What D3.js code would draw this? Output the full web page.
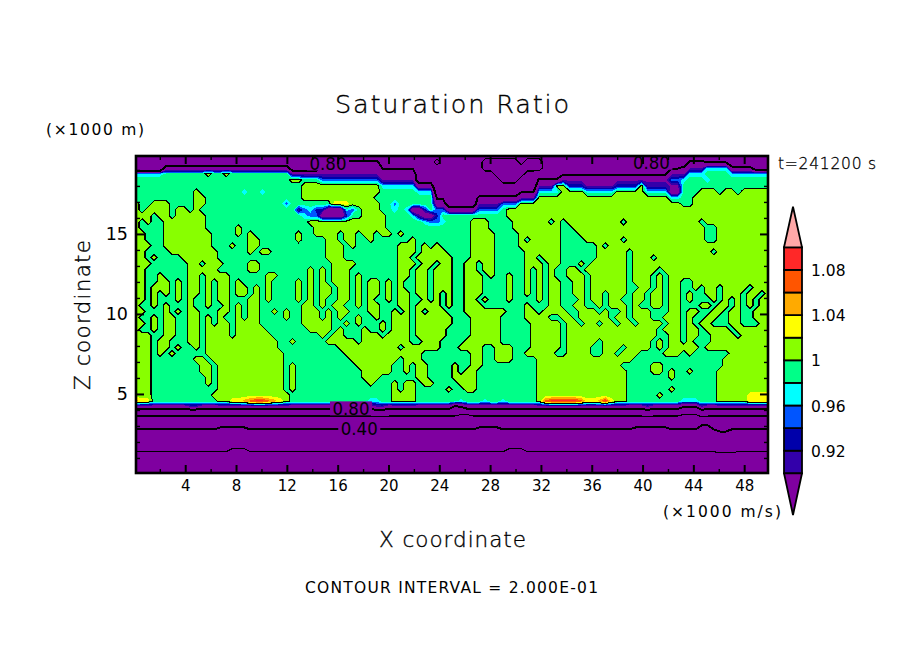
<!DOCTYPE html>
<html><head><meta charset="utf-8">
<script src="https://cdn.jsdelivr.net/npm/d3@7"></script>
<style>html,body{margin:0;padding:0;background:#fff}svg{display:block}</style>
</head><body><svg id="c" width="904" height="654"></svg>
<script>
// ---- values ----
const titleText = "Saturation Ratio";
const xTicksMajor = [4,8,12,16,20,24,28,32,36,40,44,48];
const xTicksMinor = [2,6,10,14,18,22,26,30,34,38,42,46];
const zTicksMajor = [5,10,15];
const zTicksMinor = [1,2,3,4,6,7,8,9,11,12,13,14,16,17,18,19];
const fillLevels = [0.90,0.92,0.94,0.96,0.98,1.00,1.02,1.04,1.06,1.08,1.10];
const fillColors = ["#3300aa","#0000aa","#0055ff","#00ffff","#00ff88","#88ff00","#ffff00","#ffaa00","#ff5500","#ff2828","#ffa8a8"];
const belowColor = "#7f00a0";
const lineLevelsThin = [0.2,0.6,1.0];
const lineLevelsThick = [0.4,0.8];
const barLabels = [0.92,0.96,1,1.04,1.08];
// cell codes: saturation ratio at one grid node
const codeValues = {A:.02,B:.055,C:.09,D:.125,E:.16,F:.195,G:.23,H:.265,I:.30,J:.335,K:.37,L:.405,M:.44,N:.475,O:.51,P:.545,Q:.58,R:.615,S:.65,T:.685,U:.72,V:.755,W:.79,X:.825,Y:.86,Z:.895,
  i:.91,b:.93,l:.95,c:.97,".":.99,"+":1.01,y:1.03,o:1.05,d:1.07,r:1.09};
// 54 rows (top to bottom), 106 columns (left to right)
const fieldRows = [
"TTTTTTTTTT TTTTTTTTTT TTTTTTTTTT TTTTTTTTTT TTTTTTTTTT TTTTTTTTTT TTTTTTTTTT TTTTTTTTTT TTTTTTTTTT TTTTTUUUUT TTTTTT",
"TTTTTTTTTT TTTTTTTTTT TTTTTTTTTT TXXXXXXXXX XUUUUUUTTT OTTTTTTTOO OOOOTOOOTT TTTTTTTTTT TTTTTTTTTT TTXXXWWWWU UUUTTT",
"SSSSSYYYYY YYYYYYYYYY YYYYYYUUUU UZZZZZZZZZ ZWWWWWWTTT TTTTTTTTOO OOOOOOOOTT TTTTTTTTTT TTTTTTTTTW WXZZZccccX XXXUUU",
"ccccc..... ..+..+.... ......ZZZZ ZZZZZZZZZZ ZZZZZZZTTT TTTTTTTTTT OOOOOTTUUU UWWWWWWWWW WWWWWWWWWZ ZZccc....c cccccc",
".......... .......... ......++.. .lllllllll lZZZZZZUUU TTTTTTTTTT TOOOTTTXXX XZZZZZZZZZ ZZZZZZZZZl lc...c.... ......",
".......... .......... ........++ ++++++++++ +ccccccYYY TTTTTTTTTT TTTTUUUZZZ ++bbbZZZZZ bbbb+iiiiZ Z......... ......",
".......... +.......c. .c......++ ++++++++++ +......ccc UUTTTTTUUU UUUUWWWccc c++++ccccc +++++ccccY Y...+++.++ .+++++",
".......... ++........ ........++ ++++++++++ .......... WWUUUUUXXX XXXXZZZ+++ ++++++++++ +++++++++c c..+++++++ ++++++",
"+..+++.... ++........ .....l.... ...yyy++++ +..l...... YYUUUUUZZZ Zlll++++++ ++++++++++ ++++++++++ +..+++++++ ++++++",
"+.++++.++. +......... .......ilc bbYYYcl.++ +..c.cYYb. llYYYYYlll l.++++++++ ++++++++++ ++++++++++ ++++++++++ ++++++",
"+++.++.+++ ++........ ........cl lYYYYb..++ ++....ciYY b......... ..++++++++ ++++++++++ ++++++++++ ++++++++++ ++++++",
"+.+..+++++ ++........ .........+ ++++++++++ ++......cl lc....+++. ...++++++. +.++++++++ +.++++++++ ++++.+++++ ++++++",
"+....+++++ ++.....+.. .......... ++++++++++ ++........ ......+++. ...+++++++ +..+++++++ ++++++++++ +++++..+++ ++++++",
"++...+++++ +++....+.+ .......+.. ++++.++.++ .++.+..... ......++++ ....++++++ +...++++++ ++++++++++ +++++..+++ ++++++",
"++...+++++ +++......+ +......+.. ..++.++..+ ......+... ......++++ ....+.++++ +....+++++ +.++++++++ +++++..+++ ++++++",
"+++..+++++ +++...+..+ +......... ..+++.+... ....+++.+. +.....++++ ....++++++ +......+.+ ++++++++++ ++++++++++ ++++++",
"++....++++ ++++.....+ .++....... ..+++..... ....+++.++ ++....++++ .....+++++ +......+++ ++.+++++++ ++++++.+++ ++++++",
"++.+....++ ++++...... .......... ..+++..... ....++.+++ +++...++++ .....++.++ +......+++ ++.+++.+++ ++++++++++ ++++++",
"+++......+ +.+++....+ +......... ...++++... ....+++.++ .++..++.++ .....+++.+ +...+.++++ ++.+++++++ ++++++++++ ++++++",
"++.......+ ++++.....+ +........+ .+.+++.... ....++.++. +++..++.++ .....+.+.+ ..++.+++++ ++.++++.++ ++++++++++ ++++++",
"++..+....+ +.++++.... ..++.....+ .+.+++.+.. ....++.++. +++..+++.+ ..+..+.+.+ ..+++.++++ ++.+++.+.+ ++++++++++ ++++++",
"++..++.+.+ +.+.++.+.. ..+....+.+ .+.+++.+.+ +.+.+..++. +++..+++.. ..+..+.+.+ +..++.++++ ++.+++.+.+ +..+++++++ ++++++",
"++.+++.+.+ +.+.++.++. +.+....+.+ .++.++.+.+ +.+.+..++. +++..+++.. ..+..+.+.+ +..++.++++ ++..++.+.+ +..+.++.++ ++.+++",
"++.+.+.+.+ +.+.++.++. +.+....+.+ .++.++.+.+ +.+.++.++. +.+..+++.. ..+..+.+.+ +..++.++.+ ++.++.++.+ +.+..++.++ +.++.+",
"++.+...+.+ ..+.++...+ +.+....+.+ .+..++.+.+ ..+.++..+. +.+..++.+. ..+....+.+ +...+.++.+ +..++.++.+ +.+...+.+. +.+.++",
"+..+.+...+ ..+..+.+.+ +.......++ .+.++..+.+ +...++.+++ +.+..+++.. .....+...+ +..++..+.+ ++.+..++.+ +...++.++. +.+.++",
"++...+.+.+ +...++.+.+ +..+.+..++ +.+.++...+ +..+.+.+.+ ++...+++++ ++...++.++ ++..+++.+. .+.+++...+ +.++..++.+ +..+++",
"+..+.++..+ +.+.+..+.+ +....+..++ +.+.+..+.. +..+++.+++ +++...++++ +....++++. .++.+++++. ++.+++..++ +.+..++..+ +..+++",
"++.+.++..+ +.+.++.+++ +.......++ +++..+.+.. .+.+++.+++ +++...++++ +.....++++ +.++.++.++ .++.++++.+ +.+.++...+ +...++",
"+..+.++..+ +.++++.+++ ++.......+ +++.+...+. .+.+++.+++ ++....++++ +.....++++ +.++++++++ +++++++.++ +.++.++++. ++++++",
"+++..++..+ +.++++.+++ +++....... .+.++...++ +.++++.+++ ++....++++ +.....++++ +.++++++++ +++++++..+ +.++..++++ .+++++",
"+++.++...+ +.++++++++ ++++..+... ..+++++.++ ++++++..++ +....+++++ +.....++++ +.+++++.++ ++++++.+.+ +.+...++++ ++++++",
"+++.++.+.. +.++++++++ ++++...... ....++++++ ++++.+++++ +...++++.. +++...++++ +.++++..++ +.++++.+.+ ++++.+++++ ++++++",
"+++.+.+... ..++++++++ +++++..... .....+++++ ++++++++.. ......++.. +++..+++++ ..++++..++ .+++....++ +.+......+ ++++++",
"+++....... ++.+++++++ +++++..... ......++++ ++++.+++.. ......++.. +++....+++ ++++++++++ +++....... ........++ ++++++",
"+++....... .++.++++++ +++++.+... .......+++ +++..+.++. ...+..++.. .......+++ ++++++++++ +.....++.. ........++ ++++++",
"+++....... .++.++++++ +++++.+... ........++ +++..+.++. ...+.++... .......+++ ++++++++++ ++....++.+ ..+....+++ ++++++",
"+++....... ..+.++++++ +++++.+... ........++ +......++. ...++++... .......+++ ++++++++++ ++.......+ .......+++ ++++++",
"+++....... ..+.++++++ +++++.+... .........+ ...+.++.++ ....+++... .......+++ ++++++++++ ++........ .......+++ ++++++",
"+++....... ....++++++ +++++.+... .......... ...+.++... ..+..++... .......+++ ++++++++++ ++.......+ .......+++ ++++++",
"+++....... ...+++++++ ++++++.... .......... ...++++... .......... .......+++ ++++++++++ ++.....+.. .......+++ ++yyyy",
"oyy....... ....++yyod rrdoy+.... .........c c..++++... ....c...c. .c.....+dr rrrrdyyory ++........ .ccc...+++ ++yyyy",
"YYYYYYYYYZ ZYYYYYYYYY YYYYYYYYYY YYYYYYYYYY ZZYYYYYYYY YYYVWYYYYY YYYYYYYYYY YYYYYYYYYY YYYYYZYYYY YWWWZYYYYY YYYYYY",
"SSSSSSSSSS SSSSSSSSSS SSSSSSSSSS SSSSSSSSSS TTSSSSSSSS SSSSRRSSSS SSSSSSSSSS SSSSSSSSSS SSSSSTSSSS SRRRTSSSSS SSSSSS",
"PPPPPPPPPP PPPPPPPPPP PPPPPPPPPP PPPPPPPPPP PPPPPPPPPP PPPPPPPPPP PPPPPPPPPP PPPPPPPPPP PPPPPPPPPP PPPPPPPPPP PPPPPP",
"NNNNNNNNNN NNNNMMMMMN NNNNNNNNNN NNNNNNNNNN NNNNNNNNNN NNNNNNNMMM MNNNNNNNNN NNNNNNNNNN NNNMMMMMMN NNNNLLNNNN NNNNNN",
"KKKKKKKKKK KKKKJJJJJK KKKKKKKKKK KKKKKKKKKK KKKKKKKKKK KKKKKKKJJJ JKKKKKKKKK KKKKKKKKKK KKKJJJJJJK KKKKIIKLLK KKKKKK",
"JJJJJJJJJJ JJJJJJJJJJ JJJJJJJJJJ JJJJJJJJJJ JJJJJJJJJJ JJJJJJJJJJ JJJJJJJJJJ JJJJJJJJJJ JJJJJJJJJJ JJJJJJJJJJ JJJJJJ",
"HHHHHHHHHH HHHHHHHHHH HHHHHHHHHH HHHHHHHHHH HHHHHHHHHH HHHHHHHHHH HHHHHHHHHH HHHHHHHHHH HHHHHHHHHH HHHHHHHHHH HHHHHH",
"GGGGGGGGGG GGGGGGFFFG GGGGGGGGGG GGGGGGGGGG GGGGGGGGGG GGGGGGGGGG GGFFFGGGGG GGGGGGGGGG GGGGGGGGGG GGGGGGGHHH GGGGGG",
"EEEEEEEEEE EEEEEEEEEE EEEEEEEEEE EEEEEEEEEE EEEEEEEEEE EEEEEEEEEE EEEEEEEEEE EEEEEEEEEE EEEEEEEEEE EEEEEEEEEE EEEEEE",
"DDDDDDDDDD DDDDDDDDDD DDDDDDDDDD DDDDDDDDDD DDDDDDDDDD DDDDDDDDDD DDDDDDDDDD DDDDDDDDDD DDDDDDDDDD DDDDDDDDDD DDDDDD",
"CCCCCCCCCC CCCCCCCCCC CCCCCCCCCC CCCCCCCCCC CCCCCCCCCC CCCCCCCCCC CCCCCCCCCC CCCCCCCCCC CCCCCCCCCC CCCCCCCCCC CCCCCC",
"BBBBBBBBBB BBBBBBBBBB BBBBBBBBBB BBBBBBBBBB BBBBBBBBBB BBBBBBBBBB BBBBBBBBBB BBBBBBBBBB BBBBBBBBBB BBBBBBBBBB BBBBBB"
];
// ---- chart ----
const cells = fieldRows.map(r => r.replace(/ /g,""));
const bad = cells.map((r,i)=>r.length!==106?i+":"+r.length:null).filter(Boolean);
if (bad.length || cells.length!==54) throw new Error("bad rows "+cells.length+" "+bad.join(","));
const nx = 106, ny = cells.length;
const values = cells.flatMap(r => Array.from(r, ch => codeValues[ch]));

const L=136,R=768,T=156,B=473;
const x = d3.scaleLinear().domain([0.125,49.875]).range([L,R]);
const z = d3.scaleLinear().domain([0.06,19.87]).range([B,T]);
const colX = d3.scaleLinear().domain([0.5,nx-0.5]).range([L,R]);
const rowY = d3.scaleLinear().domain([0.5,ny-0.5]).range([T,B]);
const svg = d3.select("#c");
const font = "'DejaVu Sans',sans-serif";

svg.append("defs").append("clipPath").attr("id","plot").append("rect")
  .attr("x",L).attr("y",T).attr("width",R-L).attr("height",B-T);
const path = d3.geoPath(d3.geoTransform({point(px,py){this.stream.point(colX(px),rowY(py));}}));
const contours = d3.contours().size([nx,ny]).smooth(true);

const plot = svg.append("g").attr("clip-path","url(#plot)");
plot.append("rect").attr("x",L).attr("y",T).attr("width",R-L).attr("height",B-T).attr("fill",belowColor);
plot.selectAll("path.band").data(contours.thresholds(fillLevels)(values)).join("path")
  .attr("class","band").attr("d",path).attr("fill",(d,i)=>fillColors[i]).attr("shape-rendering","crispEdges");
const lines = (levels,w) => plot.append("g").selectAll("path").data(contours.thresholds(levels)(values)).join("path")
  .attr("d",path).attr("fill","none").attr("stroke","#000").attr("stroke-width",w).attr("shape-rendering","crispEdges");
lines(lineLevelsThin,1.1);
lines(lineLevelsThick,2);

// contour labels, each on a small gap in its line
const contourLabels = [
  {t:"0.80",x:15.24,z:19.4},{t:"0.80",x:40.7,z:19.45},
  {t:"0.80",x:17.05,z:4.1},{t:"0.40",x:17.7,z:2.85}];
const lab = plot.append("g");
contourLabels.forEach(d=>{
  lab.append("rect").attr("x",x(d.x)-21).attr("y",z(d.z)-7).attr("width",42).attr("height",14).attr("fill",belowColor);
  lab.append("text").attr("x",x(d.x)-18.5).attr("y",z(d.z)+6.5).attr("textLength",37).attr("lengthAdjust","spacingAndGlyphs")
    .attr("font-family",font).attr("font-size",18).attr("fill","#000").text(d.t);
});

// axes: dir is the signed tick direction that points into the plot
function ax(gen,tx,ty,dir,major,minor,labels){
  const g1 = svg.append("g").attr("transform",`translate(${tx},${ty})`)
    .call(gen.tickValues(major).tickSizeInner(8*dir).tickSizeOuter(0).tickPadding(labels?13:0).tickFormat(labels?d3.format("d"):""));
  g1.selectAll(".tick line").attr("stroke-width",2);
  g1.select(".domain").remove();
  const g2 = svg.append("g").attr("transform",`translate(${tx},${ty})`)
    .call(gen.tickValues(minor).tickSizeInner(4*dir).tickSizeOuter(0).tickFormat(""));
  g2.select(".domain").remove();
  g2.selectAll(".tick line").attr("stroke-width",1.4);
  return g1;
}
const xa = ax(d3.axisBottom(x),0,B,-1,xTicksMajor,xTicksMinor,true);
xa.selectAll("text").attr("font-family",font).attr("font-size",15).attr("fill","#000").attr("y",7);
ax(d3.axisBottom(x),0,T,1,xTicksMajor,xTicksMinor,false);
const za = ax(d3.axisLeft(z),L,0,-1,zTicksMajor,zTicksMinor,true);
za.selectAll("text").attr("font-family",font).attr("font-size",17.5).attr("fill","#000").attr("x",-8);
ax(d3.axisLeft(z),R,0,1,zTicksMajor,zTicksMinor,false);
svg.append("rect").attr("x",L).attr("y",T).attr("width",R-L).attr("height",B-T)
  .attr("fill","none").attr("stroke","#000").attr("stroke-width",2.6);

// colour bar
const bar = d3.scaleLinear().domain([0.90,1.10]).range([473.3,247.3]);
const bx0=784,bx1=802,bxm=793;
const gb = svg.append("g");
gb.selectAll("rect").data(fillColors.slice(0,10)).join("rect")
  .attr("x",bx0).attr("width",bx1-bx0)
  .attr("y",(d,i)=>bar(fillLevels[i+1])).attr("height",(d,i)=>bar(fillLevels[i])-bar(fillLevels[i+1]))
  .attr("fill",d=>d).attr("stroke","#000").attr("stroke-width",1.8);
gb.append("path").attr("d",d3.line()([[bx0,bar(1.10)],[bxm,206.7],[bx1,bar(1.10)]])+"Z")
  .attr("fill",fillColors[10]).attr("stroke","#000").attr("stroke-width",1.8);
gb.append("path").attr("d",d3.line()([[bx0,bar(0.90)],[bxm,515],[bx1,bar(0.90)]])+"Z")
  .attr("fill",belowColor).attr("stroke","#000").attr("stroke-width",1.8);
gb.selectAll("text").data(barLabels).join("text")
  .attr("x",811).attr("y",d=>bar(d)+6).attr("font-family",font).attr("font-size",15.5).attr("fill","#000")
  .text(d=>d===1?"1":d3.format(".2f")(d));

// free text
const texts = [
  {t:titleText,x:335,y:113,s:25.5,w:234,wt:200,st:0.35},
  {t:"(×1000 m)",x:46,y:134.5,s:15.5,w:98,wt:400,st:0},
  {t:"t=241200 s",x:778,y:168.5,s:15.5,w:98,wt:200,st:0.3},
  {t:"(×1000 m/s)",x:663,y:516.5,s:15.5,w:118,wt:400,st:0},
  {t:"X coordinate",x:379,y:547,s:21.5,w:147,wt:200,st:0.35},
  {t:"CONTOUR INTERVAL = 2.000E-01",x:305,y:592.5,s:15.5,w:293,wt:400,st:0}];
svg.append("g").selectAll("text").data(texts).join("text")
  .attr("x",d=>d.x).attr("y",d=>d.y).attr("font-family",font).attr("font-size",d=>d.s).attr("font-weight",d=>d.wt)
  .attr("stroke","#000").attr("stroke-width",d=>d.st)
  .attr("textLength",d=>d.w).attr("lengthAdjust","spacing").attr("fill","#000").text(d=>d.t);
svg.append("text").attr("transform","translate(90,390) rotate(-90)")
  .attr("font-family",font).attr("font-size",21.5).attr("font-weight",200).attr("stroke","#000").attr("stroke-width",0.35)
  .attr("textLength",150).attr("lengthAdjust","spacing").attr("fill","#000").text("Z coordinate");
</script></body></html>
